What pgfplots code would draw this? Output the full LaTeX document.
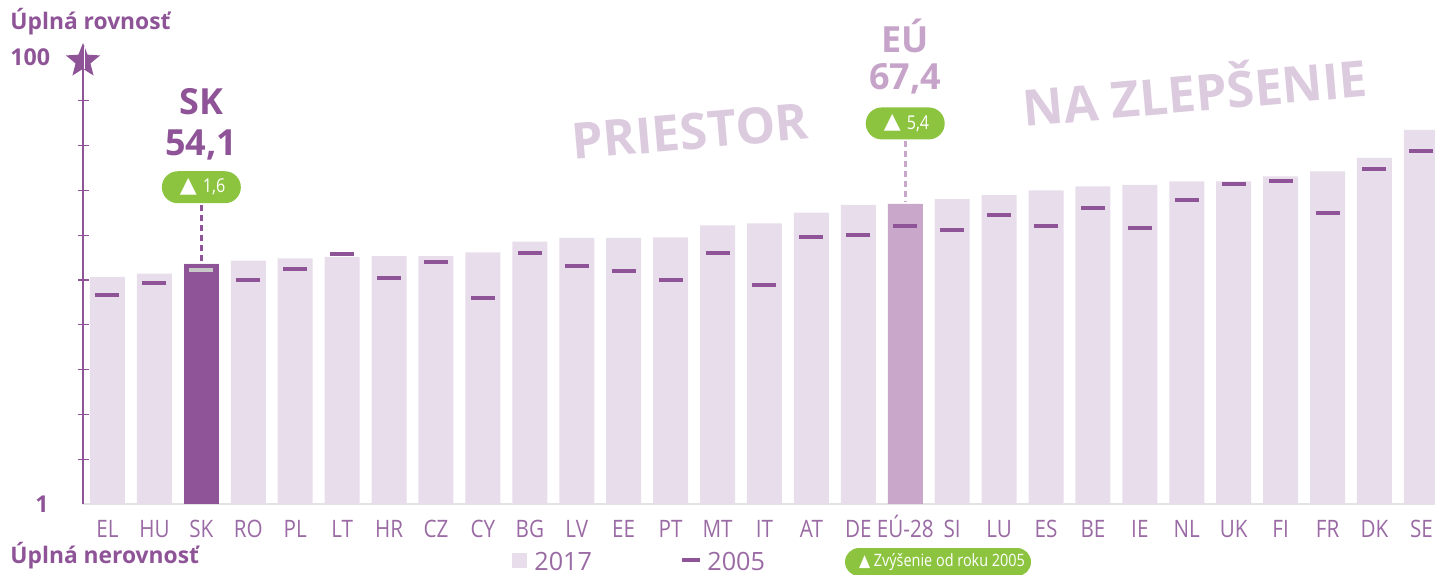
\documentclass[border=0pt]{standalone}
\usepackage{fontspec}
\setmainfont{Open Sans}
\newfontfamily\dejavu{DejaVu Sans}
\usepackage{pgfplots}
\usepackage{pgfplotstable}
\pgfplotsset{compat=1.18}
\usetikzlibrary{shapes.geometric}
\definecolor{barlight}{HTML}{E8DDEB}
\definecolor{skbar}{HTML}{8E5497}
\definecolor{eubar}{HTML}{C9A7CA}
\definecolor{purp}{HTML}{8E5497}
\definecolor{ticklab}{HTML}{9A6AA4}
\definecolor{eutext}{HTML}{C6A4C9}
\definecolor{badge}{HTML}{8CC43F}
\definecolor{wmark}{HTML}{DCCADF}
\definecolor{basegray}{HTML}{E3E3E3}
\definecolor{skdash}{HTML}{C8C8C8}

\pgfplotstableread{
idx v17 v05
0 51.2 47.1
1 51.9 49.8
2 54.1 52.8
3 54.8 50.4
4 55.3 52.9
5 55.6 56.3
6 55.8 50.9
7 55.8 54.4
8 56.6 46.5
9 59.0 56.4
10 59.8 53.7
11 59.8 52.6
12 59.9 50.4
13 62.6 56.4
14 63.0 49.5
15 65.4 59.9
16 67.1 60.4
17 67.4 62.4
18 68.4 61.5
19 69.3 64.8
20 70.3 62.4
21 71.2 66.5
22 71.5 62.1
23 72.3 68.1
24 72.3 71.8
25 73.4 72.3
26 74.5 65.4
27 77.5 75.0
28 83.7 79.1
}\datatable

\begin{document}
\begin{tikzpicture}
\useasboundingbox (0,0) rectangle (717.5pt,287pt);
\begin{axis}[
  at={(41.5pt,35pt)}, anchor=south west,
  scale only axis, width=676pt, height=224pt,
  xmin=-0.522, xmax=28.29, ymin=1, ymax=100,
  clip mode=individual,
  axis lines=left, axis line style={-},
  x axis line style={draw=basegray, line width=1.2pt},
  y axis line style={draw=purp, line width=0.8pt},
  xtick={0,...,28},
  xticklabels={EL,HU,SK,RO,PL,LT,HR,CZ,CY,BG,LV,EE,PT,MT,IT,AT,DE,EÚ-28,SI,LU,ES,BE,IE,NL,UK,FI,FR,DK,SE},
  xtick style={draw=none},
  xticklabel style={font=\fontsize{12}{12}\selectfont, text=ticklab, xscale=0.86, anchor=base, yshift=-14pt, inner sep=0pt},
  ytick={10.9,20.8,30.7,40.6,50.5,60.4,70.3,80.2,90.1},
  yticklabels={},
  ytick style={draw=purp, line width=0.6pt},
  major tick length=5.5pt, tick align=center,
]
\addplot[ybar, bar width=17.5pt, bar shift=0pt, fill=barlight, draw=none] table[x=idx, y=v17] {\datatable};
\addplot[ybar, bar width=17.5pt, bar shift=0pt, fill=skbar, draw=none] coordinates {(2,54.1)};
\addplot[ybar, bar width=17.5pt, bar shift=0pt, fill=eubar, draw=none] coordinates {(17,67.4)};
\addplot[only marks, mark=-, mark size=6pt, mark options={draw=purp, line width=2pt, line cap=butt}] table[x=idx, y=v05] {\datatable};
\addplot[only marks, mark=-, mark size=6pt, mark options={draw=skdash, line width=2pt, line cap=butt}] coordinates {(2,52.8)};

% dashed connectors
\draw[purp, line width=1.4pt, dash pattern=on 3pt off 2pt] (axis cs:2,67.0) -- (axis cs:2,54.6);
\draw[eubar, line width=1.4pt, dash pattern=on 3pt off 2pt] (axis cs:17,81.3) -- (axis cs:17,67.9);

% SK annotation
\node[text=purp, font=\bfseries\fontsize{18}{18}\selectfont] at (axis cs:2,89.9) {SK};
\node[text=purp, font=\bfseries\fontsize{18}{18}\selectfont] at (axis cs:2,80.3) {54,1};
\node[fill=badge, rounded corners=8pt, minimum width=39.5pt, minimum height=16pt, inner sep=0pt] at (axis cs:2,71.0) {};
\node[text=white, font=\dejavu\fontsize{11}{11}\selectfont, inner sep=0pt, xshift=-6.5pt, yshift=0.3pt] at (axis cs:2,71.0) {▲};
\node[text=white, font=\fontsize{9.5}{9.5}\selectfont, xscale=0.85, inner sep=0pt, xshift=7.5pt] at (axis cs:2,71.0) {1,6};

% EU annotation
\node[text=eutext, font=\bfseries\fontsize{18}{18}\selectfont] at (axis cs:17,104.5) {EÚ};
\node[text=eutext, font=\bfseries\fontsize{18}{18}\selectfont] at (axis cs:17,95.0) {67,4};
\node[fill=badge, rounded corners=8pt, minimum width=39.5pt, minimum height=16pt, inner sep=0pt] at (axis cs:17,85.1) {};
\node[text=white, font=\dejavu\fontsize{11}{11}\selectfont, inner sep=0pt, xshift=-6.5pt, yshift=0.3pt] at (axis cs:17,85.1) {▲};
\node[text=white, font=\fontsize{9.5}{9.5}\selectfont, xscale=0.85, inner sep=0pt, xshift=7.5pt] at (axis cs:17,85.1) {5,4};

% watermark
\node[text=wmark, font=\bfseries\fontsize{25}{25}\selectfont, rotate=5] at (axis cs:12.41,83.3) {PRIESTOR};
\node[text=wmark, font=\bfseries\fontsize{25}{25}\selectfont, rotate=5] at (axis cs:23.17,92.8) {NA ZLEPŠENIE};

% star at top of axis
\node[star, star points=5, star point ratio=2.3, fill=purp, minimum size=18pt, inner sep=0pt, yshift=-2.5pt] at (rel axis cs:0,1) {};
\node[fill=white, minimum width=0.7pt, minimum height=11pt, inner sep=0pt, xshift=0.8pt, yshift=-1pt] at (rel axis cs:0,1) {};
\end{axis}

% left labels
\node[anchor=west, text=purp, font=\bfseries\fontsize{11.4}{11.4}\selectfont, inner sep=0pt] at (5pt,276pt) {Úplná rovnosť};
\node[anchor=west, text=purp, font=\bfseries\fontsize{11.6}{11.6}\selectfont, inner sep=0pt] at (5pt,258.5pt) {100};
\node[anchor=center, text=purp, font=\bfseries\fontsize{11.6}{11.6}\selectfont, inner sep=0pt] at (21pt,35pt) {1};
\node[anchor=west, text=purp, font=\bfseries\fontsize{11.4}{11.4}\selectfont, inner sep=0pt] at (5pt,9pt) {Úplná nerovnosť};

% legend
\fill[barlight] (256pt,3.25pt) rectangle (263.5pt,10.75pt);
\node[anchor=west, text=ticklab, font=\fontsize{12.6}{12.6}\selectfont, inner sep=0pt] at (267pt,6.5pt) {2017};
\draw[purp, line width=2pt] (341pt,7pt) -- (350pt,7pt);
\node[anchor=west, text=ticklab, font=\fontsize{12.6}{12.6}\selectfont, inner sep=0pt] at (353.5pt,6.5pt) {2005};
\node[fill=badge, rounded corners=7pt, minimum width=93pt, minimum height=14pt, inner sep=0pt] at (469pt,6pt) {};
\node[text=white, font=\fontsize{8.5}{8.5}\selectfont, xscale=0.85, inner sep=0pt] at (471pt,6pt) {{\dejavu ▲} Zvýšenie od roku 2005};
\end{tikzpicture}
\end{document}
